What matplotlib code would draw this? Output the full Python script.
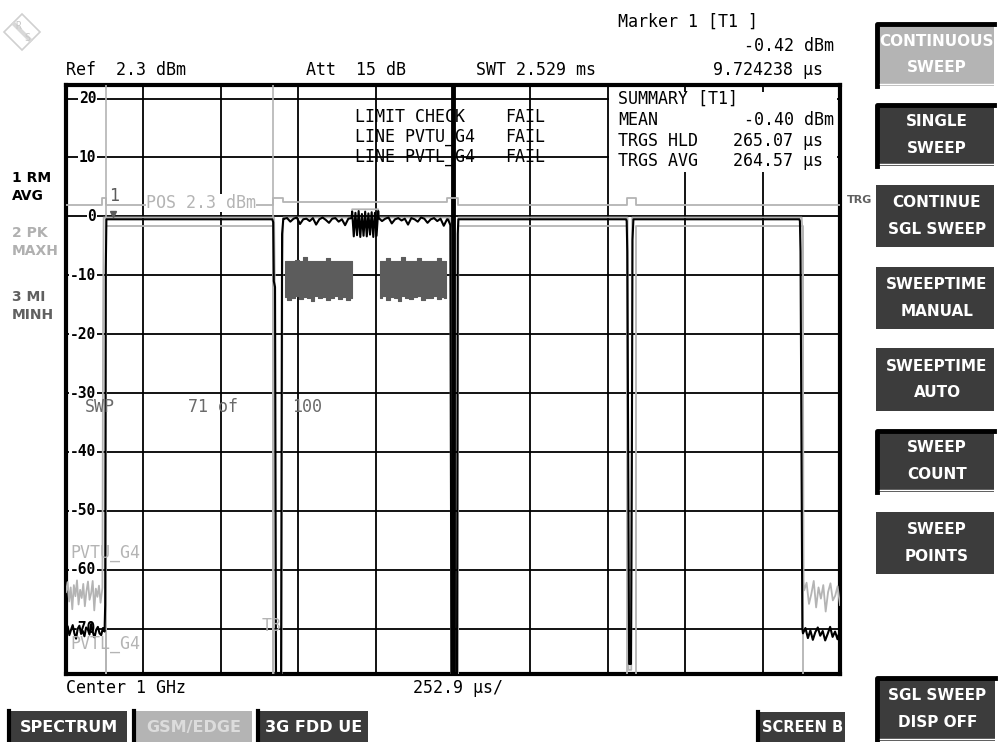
import matplotlib
matplotlib.use("Agg")
import matplotlib.pyplot as plt
import matplotlib.transforms as mtransforms
from matplotlib.patches import Rectangle, Polygon
from matplotlib import font_manager
import numpy as np

W, H = 998, 742

# ---------------- data ----------------
y_top, y_bottom = 22.3, -77.7            # 10 dB/div, ref 2.3 dBm + 20 dB
t_left, t_div = -144.0, 252.9            # us, 10 divisions
y_ticks = [20, 10, 0, -10, -20, -30, -40, -50, -60, -70]
marker_t, marker_v = 9.72, -0.42

# trace 1: RM AVG (black)
avg_left = [-70.3, -69.6, -71.1, -70.2, -69.4, -70.8, -71.7, -70.0, -69.5, -70.9, -70.4, -71.3,
            -69.8, -70.1, -71.0, -69.2, -70.6, -71.5, -70.2, -69.7, -70.8, -71.1, -69.9, -70.5]
avg_edge0_t = [-16, -14, -12, 530, 533, 535, 539, 543, 558, 562, 566]
avg_edge0_v = [-66, -9, -0.5, -0.5, -1.0, -11.0, -12.0, -95, -95, -3, -0.4]
avg_slot1a = [-0.4, -0.3, -0.9, -0.4, -0.2, -1.3, -0.5, -0.4, -0.8, -0.3, -1.4, -0.5,
              -0.2, -0.6, -1.1, -0.4, -0.3, -0.9, -0.5, -1.5, -0.4, -0.3]
avg_mid = [0.8, -3.4, 0.6, -3.2, 0.9, -3.5, 0.4, -3.3, 0.8, -3.4, 0.5, -3.1, 0.7, -3.5, 0.6, -3.3, 0.9]
avg_slot1b = [-0.3, -0.8, -0.4, -0.2, -1.2, -0.5, -0.3, -0.7, -0.4, -1.4, -0.3, -0.5,
              -0.9, -0.2, -0.4, -1.1, -0.5, -0.3, -0.8, -0.4, -1.6, -0.5]
avg_edge1_t = [1104, 1112, 1116, 1118, 1133, 1136, 1138, 1686, 1688, 1690, 1693, 1696,
               1702, 1705, 1707, 1710, 2252, 2254, 2256, 2259, 2262]
avg_edge1_v = [-0.5, -1.5, -95, -95, -95, -3, -0.5, -0.5, -0.8, -6, -40, -76,
               -76, -40, -4, -0.5, -0.5, -0.8, -6.0, -40, -70]
avg_right = [-70.8, -69.9, -71.6, -70.3, -71.9, -70.6, -69.8, -71.2, -70.4, -72.0, -70.9, -69.7,
             -71.4, -70.5, -71.8, -70.2]

# trace 2: PK MAXH (light grey)
max_left = [-63.8, -62.1, -65.4, -63.0, -66.7, -62.6, -64.5, -61.8, -65.9, -63.4, -64.8, -62.4,
            -66.2, -63.7, -62.0, -65.1, -64.0, -61.9, -66.9, -63.2, -64.6, -62.7, -65.6, -63.5]
max_mid_t = [-25, -23, -21, 536, 538, 541, 560, 563, 566, 790, 791, 876, 877, 1110, 1112, 1115,
             1135, 1138, 1691, 1694, 1703, 1706, 2260, 2263, 2266]
max_mid_v = [-63, -20, -0.2, -0.2, -10, -95, -95, -10, -0.2, -0.2, 1.2, 1.2, -0.2, -0.2, -2, -95,
             -95, -0.2, -0.2, -77, -77, -0.2, -0.2, -3.5, -62]
max_right = [-63.5, -62.2, -65.8, -64.1, -61.9, -66.4, -63.0, -64.9, -62.6, -67.1, -63.8, -62.3,
             -65.2, -64.4, -62.8, -66.0]

# trace 3: MI MINH (dark grey) in the EDGE slot
min_a_top = [-7.5, -7.6, -7.6, -7.4, -7.6, -6.9, -7.6, -7.5, -7.6, -7.5, -7.6, -7.0, -7.6, -7.5,
             -7.6, -7.6, -7.5, -7.6]
min_a_bot = [-13.7, -14.2, -13.8, -13.6, -14.1, -13.7, -13.8, -14.3, -13.6, -13.9, -13.7, -14.2,
             -13.8, -13.6, -14.0, -13.7, -14.2, -13.8]
min_b_top = [-7.6, -7.5, -7.0, -7.6, -7.5, -7.6, -6.9, -7.6, -7.5, -7.6, -7.0, -7.6, -7.5, -7.6,
             -7.6, -7.1, -7.6, -7.5]
min_b_bot = [-13.8, -13.6, -14.2, -13.7, -13.9, -14.3, -13.6, -13.8, -14.1, -13.7, -13.6, -14.2,
             -13.8, -13.9, -13.6, -14.1, -13.7, -13.8]

# limit lines
pvtu_t = [-144, -26, -26, -14, -14, 532, 532, 565, 565, 1101, 1101, 1137, 1137, 1689, 1689, 1719, 1719, 2385]
pvtu_v = [2.0, 2.0, 3.1, 3.1, 2.0, 2.0, 3.1, 3.1, 2.5, 2.5, 3.1, 3.1, 2.0, 2.0, 3.1, 3.1, 2.0, 2.0]
pvtl_t = [-144, -13, -13, 532, 532, 1137, 1137, 1689, 1689, 1719, 1719, 2264, 2264, 2385]
pvtl_v = [-100, -100, -1.7, -1.7, -100, -100, -1.7, -1.7, -100, -100, -1.7, -1.7, -100, -100]
time_lines = [-13, 532]

side_labels = [("1 RM", "AVG", "black"), ("2 PK", "MAXH", "#b0b0b0"), ("3 MI", "MINH", "#606060")]
softkeys = [("CONTINUOUS\nSWEEP", (876, 23, 994, 86), "light", True),
            ("SINGLE\nSWEEP", (876, 104, 994, 166), "dark", True),
            ("CONTINUE\nSGL SWEEP", (876, 185, 994, 247), "dark", False),
            ("SWEEPTIME\nMANUAL", (876, 267, 994, 329), "dark", False),
            ("SWEEPTIME\nAUTO", (876, 348, 994, 411), "dark", False),
            ("SWEEP\nCOUNT", (876, 430, 994, 492), "dark", True),
            ("SWEEP\nPOINTS", (876, 512, 994, 574), "dark", False),
            ("SGL SWEEP\nDISP OFF", (876, 677, 995, 741), "dark", True)]
tabs = [("SPECTRUM", (8, 711, 127, 742), "dark"),
        ("GSM/EDGE", (133, 711, 252, 742), "light"),
        ("3G FDD UE", (257, 711, 368, 742), "dark"),
        ("SCREEN B", (757, 712, 845, 742), "dark")]

# ---------------- fonts ----------------
names = {f.name for f in font_manager.fontManager.ttflist}
if "DejaVu Sans Condensed" in names:
    narrow, key_fs = "DejaVu Sans Condensed", 12
elif "Liberation Sans Narrow" in names:
    narrow, key_fs = "Liberation Sans Narrow", 12.5
else:
    narrow, key_fs = "DejaVu Sans", 10.5
mono = "DejaVu Sans Mono"
LG, DG, KEY = "#b4b4b4", "#5c5c5c", "#3c3c3c"

fig = plt.figure(figsize=(W / 100, H / 100), dpi=100)
fig.patch.set_facecolor("white")

# ---------------- main diagram ----------------
x0, y0, x1, y1 = 66, 85, 840, 674
ax = fig.add_axes([x0 / W, 1 - y1 / H, (x1 - x0) / W, (y1 - y0) / H])
ax.set_xlim(t_left, t_left + 10 * t_div)
ax.set_ylim(y_bottom, y_top)
ax.set_xticks([]); ax.set_yticks([])
for s in ax.spines.values():
    s.set_linewidth(3)
for k in range(1, 10):
    ax.axvline(t_left + k * t_div, color="black", lw=3.5 if k == 5 else 1.3, zorder=1)
for v in y_ticks:
    ax.axhline(v, color="black", lw=1.3, zorder=1)

blend = mtransforms.blended_transform_factory(ax.transAxes, ax.transData)
for v in y_ticks:
    ax.text(0.039, v, str(v), transform=blend, ha="right", va="center", family=mono,
            weight="bold", fontsize=10.5, zorder=2,
            bbox=dict(boxstyle="square,pad=0.05", fc="white", ec="none"))

for t in time_lines:
    ax.axvline(t, color=LG, lw=1.2, zorder=3)
ax.plot(pvtu_t, pvtu_v, color=LG, lw=1.3, zorder=3)
ax.plot(pvtl_t, pvtl_v, color=LG, lw=1.3, zorder=3)

max_t = np.concatenate([np.linspace(t_left, -26, len(max_left)), max_mid_t,
                        np.linspace(2268, t_left + 10 * t_div, len(max_right))])
max_v = np.concatenate([max_left, max_mid_v, max_right])
ax.plot(max_t, max_v, color=LG, lw=1.3, zorder=4)

ta = np.linspace(572, 789, len(min_a_top))
tb = np.linspace(882, 1099, len(min_b_top))
ax.fill_between(ta, min_a_bot, min_a_top, step="mid", color=DG, lw=0.8, zorder=5)
ax.fill_between(tb, min_b_bot, min_b_top, step="mid", color=DG, lw=0.8, zorder=5)

avg_t = np.concatenate([np.linspace(t_left, -18, len(avg_left)), avg_edge0_t,
                        np.linspace(568, 789, len(avg_slot1a)),
                        np.linspace(791, 876, len(avg_mid)),
                        np.linspace(878, 1101, len(avg_slot1b)), avg_edge1_t,
                        np.linspace(2264, t_left + 10 * t_div, len(avg_right))])
avg_v = np.concatenate([avg_left, avg_edge0_v, avg_slot1a, avg_mid, avg_slot1b,
                        avg_edge1_v, avg_right])
ax.plot(avg_t, avg_v, color="black", lw=1.5, zorder=6)
ax.plot([marker_t], [marker_v + 0.8], marker="v", ms=5, color=DG, zorder=7)

# ---------------- overlay (pixel coordinates) ----------------
ov = fig.add_axes([0, 0, 1, 1], zorder=10)
ov.set_xlim(0, W); ov.set_ylim(H, 0); ov.axis("off"); ov.patch.set_alpha(0)

# R&S logo
ov.add_patch(Polygon([(22, 14), (40, 32), (22, 50), (4, 32)], closed=True, fill=False, ec="#d0d0d0", lw=1.2))
ov.plot([14, 30], [24, 40], color="#d8d8d8", lw=3)
ov.text(18, 26, "R", color="#c8c8c8", fontsize=7, ha="center", va="center", family=mono)
ov.text(27, 38, "S", color="#c8c8c8", fontsize=7, ha="center", va="center", family=mono)

txt = dict(family=mono, fontsize=12, va="center")
ov.text(66, 70, "Ref  2.3 dBm", **txt)
ov.text(306, 70, "Att  15 dB", **txt)
ov.text(476, 70, "SWT 2.529 ms", **txt)
ov.text(618, 22, "Marker 1 [T1 ]", **txt)
ov.text(834, 46, "-0.42 dBm", ha="right", **txt)
ov.text(823, 70, "9.724238 µs", ha="right", **txt)

ov.text(355, 117, "LIMIT CHECK", **txt); ov.text(505, 117, "FAIL", **txt)
ov.text(355, 137, "LINE PVTU_G4", **txt); ov.text(505, 137, "FAIL", **txt)
ov.text(355, 157, "LINE PVTL_G4", **txt); ov.text(505, 157, "FAIL", **txt)

ov.add_patch(Rectangle((609, 92), 228, 80, fc="white", ec="none"))
ov.text(618, 99, "SUMMARY [T1]", **txt)
ov.text(618, 120, "MEAN", **txt); ov.text(834, 120, "-0.40 dBm", ha="right", **txt)
ov.text(618, 141, "TRGS HLD", **txt); ov.text(823, 141, "265.07 µs", ha="right", **txt)
ov.text(618, 161, "TRGS AVG", **txt); ov.text(823, 161, "264.57 µs", ha="right", **txt)

ov.text(85, 407, "SWP", color="#6a6a6a", **txt)
ov.text(188, 407, "71 of", color="#6a6a6a", **txt)
ov.text(292, 407, "100", color="#6a6a6a", **txt)
ov.text(70, 553, "PVTU_G4", color=LG, **txt)
ov.text(70, 644, "PVTL_G4", color=LG, **txt)
ov.text(262, 626, "T3", color=LG, **txt)
ov.text(109, 196, "1", color=DG, **txt)
ov.text(146, 203, "POS 2.3 dBm", color=LG, bbox=dict(boxstyle="square,pad=0.02", fc="white", ec="none"), **txt)

ov.text(66, 688, "Center 1 GHz", **txt)
ov.text(413, 688, "252.9 µs/", **txt)

bold = dict(family=narrow, weight="bold", va="center")
for i, (a, b, c) in enumerate(side_labels):
    yy = [178, 233, 297][i]
    ov.text(12, yy, a, color=c, fontsize=key_fs - 0.5, **bold)
    ov.text(12, yy + 18, b, color=c, fontsize=key_fs - 0.5, **bold)
ov.text(847, 200, "TRG", color="#606060", fontsize=key_fs - 2.5, **bold)

for label, (bx0, by0, bx1, by1), style, pressed in softkeys:
    face = LG if style == "light" else KEY
    ov.add_patch(Rectangle((bx0, by0), bx1 - bx0, by1 - by0, fc=face, ec="none"))
    if pressed:
        ov.plot([bx0 + 1, bx0 + 1, bx1], [by1, by0 + 1, by0 + 1], color="black", lw=3.5)
        ov.plot([bx0 + 4, bx1], [by1 - 2, by1 - 2], color="white", lw=1)
    ov.text((bx0 + bx1) / 2 + 2, (by0 + by1) / 2, label, color="white", fontsize=key_fs + 0.5,
            ha="center", linespacing=1.95, **bold)

for label, (bx0, by0, bx1, by1), style in tabs:
    face = LG if style == "light" else KEY
    ov.add_patch(Rectangle((bx0, by0), bx1 - bx0, by1 - by0, fc=face, ec="none"))
    ov.plot([bx0 + 1, bx0 + 1], [by0, by1], color="black", lw=3)
    ov.text((bx0 + bx1) / 2 + 1.5, (by0 + by1) / 2 + 1, label,
            color="#dcdcdc" if style == "light" else "white",
            fontsize=key_fs + (0 if bx1 - bx0 < 100 else 1), ha="center", **bold)

fig.savefig("out.png", dpi=100)
